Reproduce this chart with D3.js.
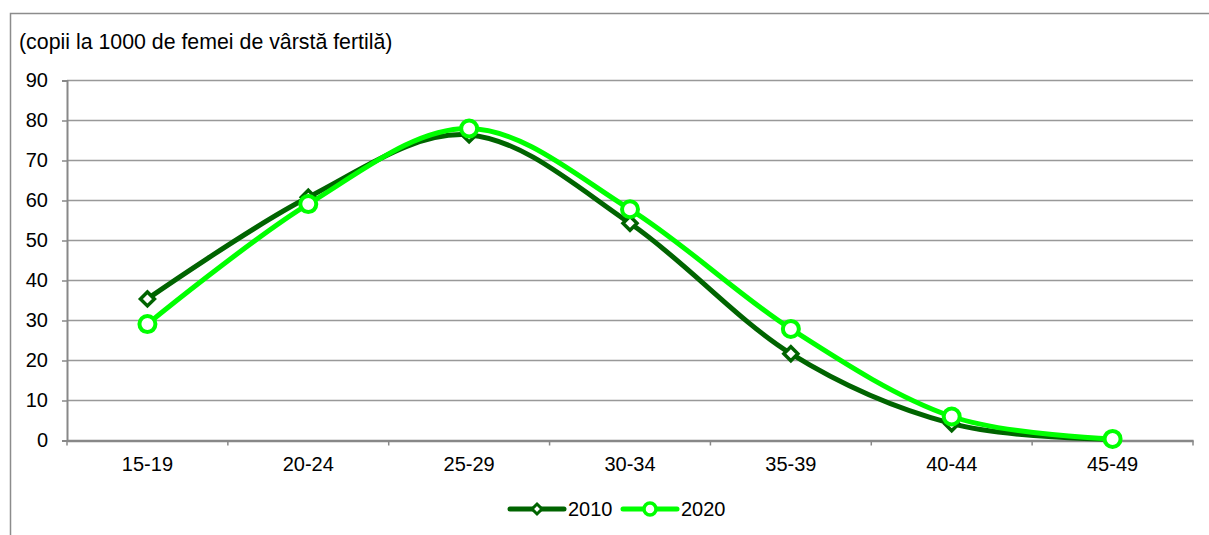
<!DOCTYPE html>
<html>
<head>
<meta charset="utf-8">
<script src="https://cdn.jsdelivr.net/npm/d3@7"></script>
<style>
  html, body { margin: 0; padding: 0; background: #fff; }
  svg { display: block; font-family: "Liberation Sans", Arial, sans-serif; }
</style>
</head>
<body>
<svg id="chart" width="1209" height="535"></svg>
<script>
// Age groups and fertility rates (births per 1000 women)
const ageGroups = ["15-19", "20-24", "25-29", "30-34", "35-39", "40-44", "45-49"];
const rates2010 = [35.4, 60.8, 76.4, 54.3, 21.7, 4.2, 0.3];
const rates2020 = [29.1, 59.1, 78.0, 57.8, 27.9, 6.0, 0.4];
const yTicks = [0, 10, 20, 30, 40, 50, 60, 70, 80, 90];
const unitLabel = "(copii la 1000 de femei de vârstă fertilă)";

const series = [
  { name: "2010", values: rates2010, color: "#006400", marker: "diamond" },
  { name: "2020", values: rates2020, color: "#00ff00", marker: "circle" }
];

const FONT = 20;
const TITLE_FONT = 21.33;
const svg = d3.select("#chart");
const margin = { left: 67, right: 1193, top: 80.5, bottom: 440.5 };

const x = d3.scaleBand().domain(ageGroups).range([margin.left, margin.right]);
const y = d3.scaleLinear().domain([0, 90]).range([margin.bottom, margin.top]);

// outer frame (top and left edges visible)
svg.append("path")
  .attr("d", "M10.5,535 L10.5,13.5 L1209,13.5")
  .attr("fill", "none").attr("stroke", "#8c8c8c").attr("stroke-width", 1.5);

// unit label
svg.append("text")
  .attr("x", 19).attr("y", 49)
  .attr("font-size", TITLE_FONT).attr("fill", "#000")
  .text(unitLabel);

// horizontal gridlines
svg.append("g").selectAll("line")
  .data(yTicks.filter(d => d > 0))
  .join("line")
  .attr("x1", margin.left).attr("x2", margin.right)
  .attr("y1", d => y(d)).attr("y2", d => y(d))
  .attr("stroke", "#999").attr("stroke-width", 1.5);

// y axis
const yAxis = svg.append("g")
  .attr("transform", `translate(${margin.left},0)`)
  .call(d3.axisLeft(y).tickValues(yTicks).tickSize(5).tickPadding(14));
yAxis.select(".domain").attr("stroke", "#888").attr("stroke-width", 2);
yAxis.selectAll(".tick line").attr("stroke", "#888").attr("stroke-width", 1.5);
yAxis.selectAll(".tick text")
  .attr("font-size", FONT).attr("fill", "#000")
  .attr("font-family", "Liberation Sans, Arial, sans-serif");

// x axis with ticks between categories
const xAxis = svg.append("g")
  .attr("transform", `translate(0,${margin.bottom})`)
  .call(d3.axisBottom(x).tickSize(0).tickPadding(16));
xAxis.select(".domain").attr("stroke", "#888").attr("stroke-width", 2.5);
xAxis.selectAll(".tick text")
  .attr("font-size", FONT).attr("fill", "#000")
  .attr("font-family", "Liberation Sans, Arial, sans-serif");
const bounds = ageGroups.map(d => x(d)).concat([x(ageGroups[ageGroups.length - 1]) + x.bandwidth()]);
xAxis.selectAll("line.sep")
  .data(bounds)
  .join("line").attr("class", "sep")
  .attr("x1", d => d).attr("x2", d => d)
  .attr("y1", 0).attr("y2", 5)
  .attr("stroke", "#888").attr("stroke-width", 1.5);

const cx = (d, i) => x(ageGroups[i]) + x.bandwidth() / 2;
const line = d3.line()
  .x((d, i) => cx(d, i))
  .y(d => y(d))
  .curve(d3.curveCardinal.tension(0));

const diamond = s => `M0,${-s} L${s},0 L0,${s} L${-s},0 Z`;

function drawMarker(g, type, color) {
  if (type === "diamond") {
    g.append("path").attr("d", diamond(7))
      .attr("fill", "#fff").attr("stroke", color).attr("stroke-width", 3.5);
  } else {
    g.append("circle").attr("r", 8)
      .attr("fill", "#fff").attr("stroke", color).attr("stroke-width", 4);
  }
}

series.forEach(s => {
  const g = svg.append("g");
  g.append("path")
    .datum(s.values)
    .attr("d", line)
    .attr("fill", "none")
    .attr("stroke", s.color)
    .attr("stroke-width", 5);
  g.selectAll("g.m")
    .data(s.values)
    .join("g").attr("class", "m")
    .attr("transform", (d, i) => `translate(${cx(d, i)},${y(d)})`)
    .each(function () { drawMarker(d3.select(this), s.marker, s.color); });
});

// legend
const legend = svg.append("g").attr("transform", "translate(0,509)");
const legendX = [510, 623];
series.forEach((s, i) => {
  const lg = legend.append("g").attr("transform", `translate(${legendX[i]},0)`);
  lg.append("line").attr("x1", 0).attr("x2", 54).attr("y1", 0).attr("y2", 0)
    .attr("stroke", s.color).attr("stroke-width", 5).attr("stroke-linecap", "round");
  const m = lg.append("g").attr("transform", "translate(27,0)");
  if (s.marker === "diamond") {
    m.append("path").attr("d", diamond(5)).attr("fill", "#fff")
      .attr("stroke", s.color).attr("stroke-width", 3);
  } else {
    m.append("circle").attr("r", 6).attr("fill", "#fff")
      .attr("stroke", s.color).attr("stroke-width", 3.5);
  }
  lg.append("text").attr("x", 58).attr("y", 7)
    .attr("font-size", FONT).attr("fill", "#000").text(s.name);
});
</script>
</body>
</html>
